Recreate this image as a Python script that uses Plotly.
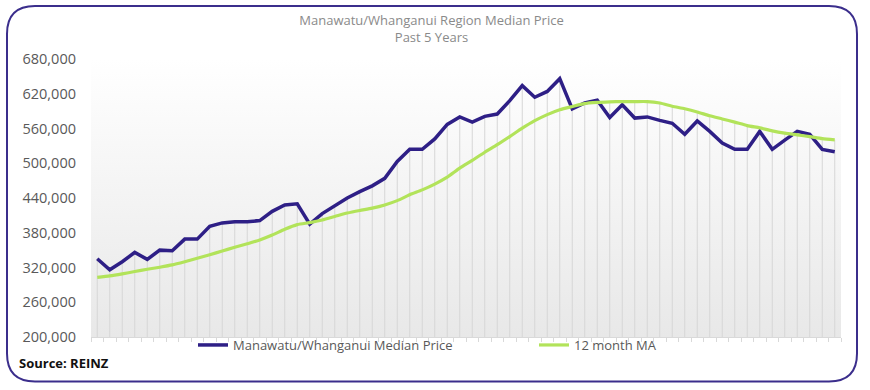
import plotly.graph_objects as go
import numpy as np

# ---- data ----
months = list(range(60))  # 60 monthly observations, past 5 years
median_price = [
    335000, 316000, 330000, 346000, 334000, 350000, 349000, 369000, 369000, 391000,
    397000, 399000, 399000, 401000, 417000, 428000, 430000, 395000, 413000, 426000,
    440000, 451000, 461000, 474000, 503000, 524000, 524000, 542000, 567000, 580000,
    571000, 581000, 585000, 608000, 634000, 614000, 624000, 646000, 594000, 604000,
    609000, 579000, 601000, 578000, 580000, 574000, 569000, 550000, 573000, 555000,
    535000, 524000, 524000, 555000, 524000, 540000, 555000, 550000, 524000, 520000,
]
ma_12 = [
    303000, 305500, 309000, 313000, 317000, 320500, 324500, 330000, 336000, 342000,
    348500, 355000, 361000, 367500, 376000, 386000, 394000, 397500, 402000, 408000,
    414000, 418500, 422500, 428000, 435500, 445500, 454000, 464000, 476000, 491500,
    505000, 519000, 532000, 546000, 560500, 573500, 584000, 592500, 598000, 603000,
    605000, 606000, 606500, 606500, 606500, 604000, 598500, 594000, 588500, 582000,
    576500, 571000, 565000, 561000, 556000, 552000, 549000, 546000, 542500, 540500,
]
y_ticks = [200000, 260000, 320000, 380000, 440000, 500000, 560000, 620000, 680000]
y_min, y_max = 200000, 680000

series_names = ["Manawatu/Whanganui Median Price", "12 month MA"]
title_text = "Manawatu/Whanganui Region Median Price<br>Past 5 Years"
source_text = "<b>Source: REINZ</b>"

PURPLE = "#2e1f86"
GREEN = "#b2e35a"
FONT = "Open Sans"

# ---- geometry helpers (pixel layout) ----
W, H = 870, 390
L, R, T, B = 91, 841, 59, 337.5


def px_x(p):
    return (p - L) / (R - L)


def px_y(p):
    return (B - p) / (B - T)


fig = go.Figure()

# plot-area gradient background
x_lo, x_hi = months[0] - 0.5, months[-1] + 0.5
fig.add_trace(go.Scatter(
    x=[x_lo, x_hi, x_hi, x_lo, x_lo],
    y=[y_min, y_min, y_max, y_max, y_min],
    mode="lines", line=dict(width=0), fill="toself",
    fillgradient=dict(type="vertical", start=y_min, stop=y_max,
                      colorscale=[[0, "#e8e8e8"], [1, "#ffffff"]]),
    showlegend=False, hoverinfo="skip",
))

# drop lines from the higher series down to the axis
tops = np.maximum(median_price, ma_12)
dx, dy = [], []
for m, t in zip(months, tops):
    dx += [m, m, None]
    dy += [t, y_min, None]
fig.add_trace(go.Scatter(
    x=dx, y=dy, mode="lines", line=dict(color="#d6d6d6", width=1),
    showlegend=False, hoverinfo="skip",
))

fig.add_trace(go.Scatter(
    x=months, y=median_price, mode="lines", name=series_names[0],
    line=dict(color=PURPLE, width=3.5), legend="legend",
))
fig.add_trace(go.Scatter(
    x=months, y=ma_12, mode="lines", name=series_names[1],
    line=dict(color=GREEN, width=3.2, shape="spline", smoothing=0.6),
    legend="legend2",
))

# rounded outer frame
x0, x1, y0, y1, r = 7, 857, 6, 382, 28
path = (
    f"M {px_x(x0 + r)} {px_y(y0)} L {px_x(x1 - r)} {px_y(y0)} "
    f"Q {px_x(x1)} {px_y(y0)} {px_x(x1)} {px_y(y0 + r)} "
    f"L {px_x(x1)} {px_y(y1 - r)} "
    f"Q {px_x(x1)} {px_y(y1)} {px_x(x1 - r)} {px_y(y1)} "
    f"L {px_x(x0 + r)} {px_y(y1)} "
    f"Q {px_x(x0)} {px_y(y1)} {px_x(x0)} {px_y(y1 - r)} "
    f"L {px_x(x0)} {px_y(y0 + r)} "
    f"Q {px_x(x0)} {px_y(y0)} {px_x(x0 + r)} {px_y(y0)} Z"
)
fig.add_shape(type="path", path=path, xref="paper", yref="paper",
              line=dict(color="#3b2e8c", width=2), layer="above")

fig.add_annotation(text=source_text, xref="paper", yref="paper",
                   x=px_x(17), y=px_y(364), xanchor="left", yanchor="middle",
                   showarrow=False, font=dict(family=FONT, size=13, color="#111111"))

legend_common = dict(orientation="h", yref="container", y=1 - 345 / H,
                     xref="container", xanchor="left", yanchor="middle",
                     itemwidth=30, font=dict(family=FONT, size=13, color="#595959"),
                     bgcolor="rgba(0,0,0,0)")

fig.update_layout(
    width=W, height=H,
    margin=dict(l=L, r=W - R, t=T, b=H - B, autoexpand=False),
    paper_bgcolor="white", plot_bgcolor="white",
    title=dict(text=title_text, x=431.5 / W, xref="container", xanchor="center",
               y=1 - 25 / H, yref="container", yanchor="middle",
               font=dict(family=FONT, size=13, color="#8a8a8a")),
    font=dict(family=FONT, color="#595959"),
    showlegend=True,
    legend=dict(x=193 / W, **legend_common),
    legend2=dict(x=534 / W, **legend_common),
    xaxis=dict(range=[x_lo, x_hi], tickvals=[m - 0.5 for m in months] + [x_hi],
               ticks="outside", ticklen=4, tickcolor="#d9d9d9",
               showticklabels=False, showline=True, linecolor="#d9d9d9",
               showgrid=False, zeroline=False, fixedrange=True),
    yaxis=dict(range=[y_min, y_max], tickvals=y_ticks, tickformat=",",
               showgrid=False, zeroline=False, showline=False,
               ticklabelstandoff=14,
               tickfont=dict(family=FONT, size=14.5, color="#595959")),
)

fig.write_html("out.html",
               config={"displayModeBar": False},
               post_script="document.body.style.margin='0';"
                           "document.body.style.overflow='hidden';")
